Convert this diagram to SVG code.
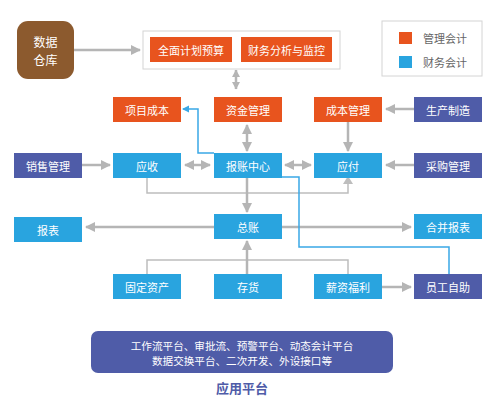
<svg xmlns="http://www.w3.org/2000/svg" width="499" height="413" viewBox="0 0 499 413">
<defs>
<style>
.o{fill:#e8541e}
.b{fill:#29a4df}
.p{fill:#4f5ca8}
.t{font-family:"Noto Sans CJK SC","Liberation Sans",sans-serif;font-size:11px;fill:#fff;text-anchor:middle;dominant-baseline:central}
.g{fill:none;stroke:#b5b5b5;stroke-width:2.5}
.gt{fill:none;stroke:#bdbdbd;stroke-width:1.5}
.bl{fill:none;stroke:#3aa8e6;stroke-width:1.5}
</style>
<marker id="ah" markerUnits="userSpaceOnUse" markerWidth="12" markerHeight="12" refX="9" refY="6" orient="auto-start-reverse" viewBox="0 0 12 12">
<path d="M0,1 L10,6 L0,11 Z" fill="#b5b5b5"/>
</marker>
<marker id="as" markerUnits="userSpaceOnUse" markerWidth="9" markerHeight="9" refX="7" refY="4.5" orient="auto-start-reverse" viewBox="0 0 9 9">
<path d="M0,0.5 L7.5,4.5 L0,8.5 Z" fill="#b5b5b5"/>
</marker>
<marker id="bh" markerUnits="userSpaceOnUse" markerWidth="8" markerHeight="8" refX="6" refY="4" orient="auto" viewBox="0 0 8 8">
<path d="M0,0.5 L7,4 L0,7.5 Z" fill="#3aa8e6"/>
</marker>
</defs>
<rect width="499" height="413" fill="#fff"/>
<g id="connectors">
<line class="g" x1="74" y1="50" x2="140" y2="50" marker-end="url(#ah)"/>
<line class="g" x1="236" y1="70" x2="236" y2="89" stroke-width="2" marker-start="url(#as)" marker-end="url(#as)"/>
<line class="g" x1="247" y1="125" x2="247" y2="151" marker-start="url(#ah)" marker-end="url(#ah)"/>
<line class="g" x1="414" y1="109" x2="386" y2="109" marker-end="url(#ah)"/>
<line class="g" x1="348" y1="122" x2="348" y2="151" marker-end="url(#ah)"/>
<line class="g" x1="82" y1="165" x2="110" y2="165" marker-end="url(#ah)"/>
<line class="g" x1="185" y1="165" x2="210" y2="165" marker-start="url(#ah)" marker-end="url(#ah)"/>
<line class="g" x1="285" y1="165" x2="311" y2="165" marker-start="url(#ah)" marker-end="url(#ah)"/>
<line class="g" x1="414" y1="165" x2="386" y2="165" marker-end="url(#ah)"/>
<path class="gt" d="M147,178 V193 H348 V183"/>
<path d="M343,184 L348,176 L353,184 Z" fill="#bdbdbd"/>
<line class="g" x1="247" y1="178" x2="247" y2="212" marker-end="url(#ah)"/>
<line class="g" x1="214" y1="227" x2="86" y2="227" marker-end="url(#ah)"/>
<line class="g" x1="282" y1="227" x2="411" y2="227" marker-end="url(#ah)"/>
<path class="gt" d="M147,274 V260 H348 V274"/>
<line class="g" x1="247" y1="274" x2="247" y2="241" marker-end="url(#ah)"/>
<line class="g" x1="382" y1="287" x2="411" y2="287" marker-end="url(#ah)"/>
<path class="bl" d="M449,274 V247 H299 V177 H282"/>
<path class="bl" d="M214,153 H198 V109 H183" marker-end="url(#bh)"/>
</g>
<g id="n-dw">
<rect x="17" y="21" width="57" height="58" rx="11" fill="#8c5a2e"/>
<text class="t" x="45.5" y="41" style="font-size:12px">数据</text>
<text class="t" x="45.5" y="59" style="font-size:12px">仓库</text>
</g>
<g id="n-plan">
<rect x="143" y="31" width="197" height="38" fill="#fff" stroke="#d4d4d4" stroke-width="1"/>
<rect class="o" x="150" y="37" width="82" height="25"/>
<text class="t" x="191" y="49.5">全面计划预算</text>
<rect class="o" x="241" y="37" width="91" height="25"/>
<text class="t" x="286.5" y="49.5">财务分析与监控</text>
</g>
<g id="legend">
<rect x="382" y="21" width="100" height="55" fill="#fff" stroke="#d4d4d4" stroke-width="1"/>
<rect class="o" x="399" y="32" width="13" height="12"/>
<text class="t" x="445" y="38" style="fill:#666">管理会计</text>
<rect class="b" x="399" y="56" width="13" height="12"/>
<text class="t" x="445" y="62" style="fill:#666">财务会计</text>
</g>
<g id="n-xmcb"><rect class="o" x="113" y="97" width="68" height="25"/><text class="t" x="147" y="109.5">项目成本</text></g>
<g id="n-zjgl"><rect class="o" x="214" y="97" width="68" height="25"/><text class="t" x="248" y="109.5">资金管理</text></g>
<g id="n-cbgl"><rect class="o" x="314" y="97" width="68" height="25"/><text class="t" x="348" y="109.5">成本管理</text></g>
<g id="n-sczz"><rect class="p" x="414" y="97" width="68" height="25"/><text class="t" x="448" y="109.5">生产制造</text></g>
<g id="n-xsgl"><rect class="p" x="14" y="153" width="68" height="25"/><text class="t" x="48" y="165.5">销售管理</text></g>
<g id="n-ys"><rect class="b" x="113" y="153" width="68" height="25"/><text class="t" x="147" y="165.5">应收</text></g>
<g id="n-bzzx"><rect class="b" x="214" y="153" width="68" height="25"/><text class="t" x="248" y="165.5">报账中心</text></g>
<g id="n-yf"><rect class="b" x="314" y="153" width="68" height="25"/><text class="t" x="348" y="165.5">应付</text></g>
<g id="n-cggl"><rect class="p" x="414" y="153" width="68" height="25"/><text class="t" x="448" y="165.5">采购管理</text></g>
<g id="n-bb"><rect class="b" x="14" y="217" width="68" height="25"/><text class="t" x="48" y="229.5">报表</text></g>
<g id="n-zz"><rect class="b" x="214" y="214" width="68" height="25"/><text class="t" x="248" y="226.5">总账</text></g>
<g id="n-hbbb"><rect class="b" x="414" y="214" width="68" height="25"/><text class="t" x="448" y="226.5">合并报表</text></g>
<g id="n-gdzc"><rect class="b" x="113" y="274" width="68" height="25"/><text class="t" x="147" y="286.5">固定资产</text></g>
<g id="n-ch"><rect class="b" x="214" y="274" width="68" height="25"/><text class="t" x="248" y="286.5">存货</text></g>
<g id="n-xzfl"><rect class="b" x="314" y="274" width="68" height="25"/><text class="t" x="348" y="286.5">薪资福利</text></g>
<g id="n-ygzz"><rect class="p" x="414" y="274" width="68" height="25"/><text class="t" x="448" y="286.5">员工自助</text></g>
<g id="n-platform">
<rect class="p" x="91" y="331" width="302" height="42" rx="7"/>
<text class="t" x="242" y="345.5" style="font-size:10.6px">工作流平台、审批流、预警平台、动态会计平台</text>
<text class="t" x="242" y="360.5" style="font-size:10.6px">数据交换平台、二次开发、外设接口等</text>
<text class="t" x="242" y="387" style="fill:#4f5ca8;font-size:13px;font-weight:bold">应用平台</text>
</g>
</svg>
